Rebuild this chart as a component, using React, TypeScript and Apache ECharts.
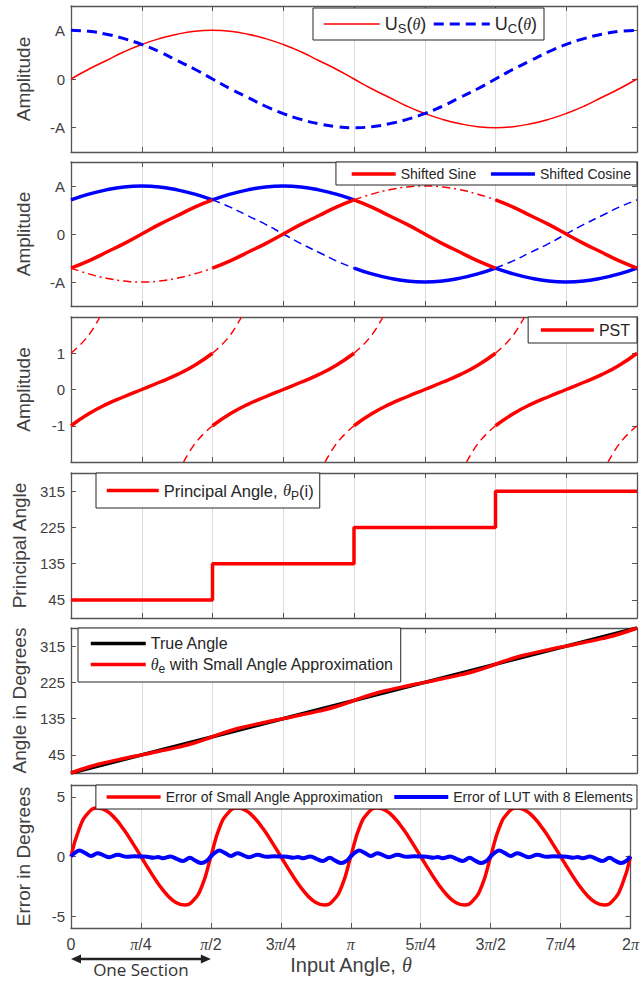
import React, { useEffect, useRef } from 'react';
import * as echarts from 'echarts';

// ---------- data ----------
const SECTION_STARTS = [0, 90, 180, 270];
const FULL_SAMPLES = Array.from({ length: 33 }, (_, i) => i * 11.25); // 0..360 deg
const SECTION_SAMPLES = [0, 11.25, 22.5, 33.75, 45, 56.25, 67.5, 78.75, 90];
const X_TICK_LABELS = ['0', '{p|π}/4', '{p|π}/2', '3{p|π}/4', '{p|π}', '5{p|π}/4', '3{p|π}/2', '7{p|π}/4', '2{p|π}'];

// Panel 1
const U_S = [0, 0.2, 0.38, 0.56, 0.71, 0.83, 0.92, 0.98, 1, 0.98, 0.92, 0.83, 0.71, 0.56, 0.38, 0.2, 0,
  -0.2, -0.38, -0.56, -0.71, -0.83, -0.92, -0.98, -1, -0.98, -0.92, -0.83, -0.71, -0.56, -0.38, -0.2, 0];
const U_C = [1, 0.98, 0.92, 0.83, 0.71, 0.56, 0.38, 0.2, 0, -0.2, -0.38, -0.56, -0.71, -0.83, -0.92, -0.98, -1,
  -0.98, -0.92, -0.83, -0.71, -0.56, -0.38, -0.2, 0, 0.2, 0.38, 0.56, 0.71, 0.83, 0.92, 0.98, 1];

// Panel 2 (per section)
const SHIFTED_SINE_SOLID = [
  [-0.71, -0.56, -0.38, -0.2, 0, 0.2, 0.38, 0.56, 0.71],
  [-0.71, -0.56, -0.38, -0.2, 0, 0.2, 0.38, 0.56, 0.71],
  [0.71, 0.56, 0.38, 0.2, 0, -0.2, -0.38, -0.56, -0.71],
  [0.71, 0.56, 0.38, 0.2, 0, -0.2, -0.38, -0.56, -0.71],
];
const SHIFTED_SINE_DASHDOT = [
  [-0.71, -0.83, -0.92, -0.98, -1, -0.98, -0.92, -0.83, -0.71],
  null,
  [0.71, 0.83, 0.92, 0.98, 1, 0.98, 0.92, 0.83, 0.71],
  null,
];
const SHIFTED_COSINE_SOLID = [
  [0.71, 0.83, 0.92, 0.98, 1, 0.98, 0.92, 0.83, 0.71],
  [0.71, 0.83, 0.92, 0.98, 1, 0.98, 0.92, 0.83, 0.71],
  [-0.71, -0.83, -0.92, -0.98, -1, -0.98, -0.92, -0.83, -0.71],
  [-0.71, -0.83, -0.92, -0.98, -1, -0.98, -0.92, -0.83, -0.71],
];
const SHIFTED_COSINE_DASHED = [
  null,
  [0.71, 0.56, 0.38, 0.2, 0, -0.2, -0.38, -0.56, -0.71],
  null,
  [-0.71, -0.56, -0.38, -0.2, 0, 0.2, 0.38, 0.56, 0.71],
];

// Panel 3
const PST_SECTION = [-1, -0.67, -0.41, -0.2, 0, 0.2, 0.41, 0.67, 1];
const PST_TAIL_OFFSETS = [0, 4.6, 9.2, 13.8, 18.4];
const PST_TAIL_RISE = [1, 1.18, 1.39, 1.66, 2];
const PST_TAIL_LOW = [-2, -1.66, -1.39, -1.18, -1];
const PST_RISE_STARTS = [0, 90, 180, 270];
const PST_LOW_ENDS = [90, 180, 270, 360];

// Panel 4
const PRINCIPAL_ANGLES = [45, 135, 225, 315];

// Panel 5
const TRUE_ANGLE_X = [0, 360];
const TRUE_ANGLE = [0, 360];
const THETA_E = [0, 14.93, 26.36, 36.05, 45, 53.95, 63.64, 75.07, 90,
  104.93, 116.36, 126.05, 135, 143.95, 153.64, 165.07, 180,
  194.93, 206.36, 216.05, 225, 233.95, 243.64, 255.07, 270,
  284.93, 296.36, 306.05, 315, 323.95, 333.64, 345.07, 360];

// Panel 6 (one section, repeated for each section)
const SAA_OFFSETS = Array.from({ length: 17 }, (_, i) => i * 5.625);
const SAA_ERROR_SECTION = [0, 2.44, 3.68, 4.07, 3.86, 3.23, 2.3, 1.19, 0, -1.19, -2.3, -3.23, -3.86, -4.07, -3.68, -2.44, 0];
const LUT_OFFSETS = [0, 2.5, 5.5, 9, 13, 17, 21, 24.5, 30, 36, 41, 45, 49, 53, 56, 59, 64, 68, 72, 76.5, 80, 84, 87.5, 90];
const LUT_ERROR_SECTION = [0, 0.3, 0.5, 0.3, 0.05, 0.28, 0.1, -0.06, 0.14, -0.03, 0.02, 0, -0.02, -0.1, -0.05, -0.15, 0, -0.2, -0.38, -0.1, -0.35, -0.55, -0.35, 0];

// ---------- layout ----------
const PANELS = [
  { top: 6, height: 146, min: -1.5, max: 1.5, ticks: [-1, 0, 1], labels: ['-A', '0', 'A'], name: 'Amplitude' },
  { top: 162, height: 144, min: -1.5, max: 1.5, ticks: [-1, 0, 1], labels: ['-A', '0', 'A'], name: 'Amplitude' },
  { top: 317, height: 145, min: -2, max: 2, ticks: [-1, 0, 1], labels: ['-1', '0', '1'], name: 'Amplitude' },
  { top: 473, height: 145, min: 0, max: 360, ticks: [45, 135, 225, 315], labels: ['45', '135', '225', '315'], name: 'Principal Angle' },
  { top: 628, height: 145, min: 0, max: 360, ticks: [45, 135, 225, 315], labels: ['45', '135', '225', '315'], name: 'Angle in Degrees' },
  { top: 785, height: 143, min: -6, max: 6, ticks: [-5, 0, 5], labels: ['-5', '0', '5'], name: 'Error in Degrees' },
];

const RED = '#ff0000';
const BLUE = '#0000ff';
const AXIS_COLOR = '#555555';
const TEXT_COLOR = '#404040';
const LEGEND_TEXT = '#262626';
const FONT = 'Liberation Sans';

function sectioned(values: (number[] | null)[], offsets: number[]) {
  const pts: any[] = [];
  values.forEach((vals, s) => {
    if (!vals) return;
    vals.forEach((v, i) => pts.push([SECTION_STARTS[s] + offsets[i], v]));
    pts.push([SECTION_STARTS[s] + offsets[offsets.length - 1], null]);
  });
  return pts;
}

function continuous(offsets: number[], section: number[]) {
  const pts: any[] = [];
  SECTION_STARTS.forEach((start, s) => {
    section.forEach((v, i) => {
      if (s > 0 && i === 0) return;
      pts.push([start + offsets[i], v]);
    });
  });
  return pts;
}

function lineSeries(name: string, g: number, data: any[], color: string, width: number, type: any, extra: any = {}) {
  return {
    type: 'line', name, xAxisIndex: 2 * g, yAxisIndex: 2 * g, data,
    symbol: 'none', showSymbol: false, smooth: true, silent: true, connectNulls: false,
    lineStyle: { color, width, type }, itemStyle: { color },
    ...extra,
  };
}

function rich(size: number, subSize: number, subLine: number) {
  return {
    sub: { fontSize: subSize, lineHeight: subLine, verticalAlign: 'bottom', fontFamily: FONT, color: LEGEND_TEXT },
    th: { fontStyle: 'italic', fontFamily: 'Liberation Serif', fontSize: size, color: LEGEND_TEXT },
  };
}

function legendBase(extra: any) {
  return {
    backgroundColor: '#ffffff', borderColor: '#262626', borderWidth: 1, borderRadius: 0,
    selectedMode: false, itemHeight: 12,
    itemStyle: { opacity: 0 },
    ...extra,
  };
}

export default function App() {
  const ref = useRef<HTMLDivElement>(null);
  useEffect(() => {
    if (!ref.current) return;
    const chart = echarts.init(ref.current, null, { renderer: 'svg' });

    const grids = PANELS.map((p) => ({ left: 71, right: 5, top: p.top, height: p.height }));
    const xAxes: any[] = [];
    const yAxes: any[] = [];
    PANELS.forEach((p, g) => {
      const last = g === PANELS.length - 1;
      xAxes.push({
        type: 'value', gridIndex: g, position: 'bottom', min: 0, max: 360, interval: 45,
        axisLine: { show: true, onZero: false, lineStyle: { color: AXIS_COLOR, width: 1.3 } },
        axisTick: { show: true, inside: true, length: 5, lineStyle: { color: AXIS_COLOR } },
        splitLine: { show: true, lineStyle: { color: '#dcdcdc', width: 1 } },
        axisLabel: {
          show: last, margin: 8, fontSize: 16, color: TEXT_COLOR, fontFamily: FONT,
          showMinLabel: true, showMaxLabel: true,
          formatter: (v: number) => X_TICK_LABELS[Math.round(v / 45)] ?? '',
          rich: { p: { fontFamily: 'Liberation Serif', fontStyle: 'italic', fontSize: 16, color: TEXT_COLOR } },
        },
        name: last ? 'Input Angle, {t|θ}' : '',
        nameLocation: 'middle', nameGap: 26,
        nameTextStyle: {
          fontSize: 20, color: TEXT_COLOR, fontFamily: FONT, lineHeight: 22,
          rich: { t: { fontFamily: 'Liberation Serif', fontStyle: 'italic', fontSize: 20, color: TEXT_COLOR } },
        },
      });
      xAxes.push({
        type: 'value', gridIndex: g, position: 'top', min: 0, max: 360, interval: 45,
        axisLine: { show: true, onZero: false, lineStyle: { color: AXIS_COLOR, width: 1.3 } },
        axisTick: { show: true, inside: true, length: 5, lineStyle: { color: AXIS_COLOR } },
        splitLine: { show: false }, axisLabel: { show: false },
      });
      yAxes.push({
        type: 'value', gridIndex: g, position: 'left', min: p.min, max: p.max,
        axisLine: { show: true, onZero: false, lineStyle: { color: AXIS_COLOR, width: 1.3 } },
        axisTick: { show: true, inside: true, length: 5, customValues: p.ticks, lineStyle: { color: AXIS_COLOR } },
        splitLine: { show: false },
        axisLabel: {
          show: true, customValues: p.ticks, margin: 6, fontSize: 15, color: TEXT_COLOR, fontFamily: FONT,
          formatter: (v: number) => { const i = p.ticks.indexOf(v); return i >= 0 ? p.labels[i] : ''; },
        },
        name: p.name, nameLocation: 'middle', nameGap: 38,
        nameTextStyle: { fontSize: 19, color: TEXT_COLOR, fontFamily: FONT },
      });
      yAxes.push({
        type: 'value', gridIndex: g, position: 'right', min: p.min, max: p.max,
        axisLine: { show: true, onZero: false, lineStyle: { color: AXIS_COLOR, width: 1.3 } },
        axisTick: { show: true, inside: true, length: 5, customValues: p.ticks, lineStyle: { color: AXIS_COLOR } },
        splitLine: { show: false }, axisLabel: { show: false },
      });
    });

    // Panel 3 tails
    const pstTails: any[] = [];
    PST_RISE_STARTS.forEach((s) => {
      PST_TAIL_OFFSETS.forEach((o, i) => pstTails.push([s + o, PST_TAIL_RISE[i]]));
      pstTails.push([s, null]);
    });
    PST_LOW_ENDS.forEach((e) => {
      PST_TAIL_OFFSETS.forEach((o, i) => pstTails.push([e - PST_TAIL_OFFSETS[PST_TAIL_OFFSETS.length - 1] + o, PST_TAIL_LOW[i]]));
      pstTails.push([e, null]);
    });

    const principal = SECTION_STARTS.map((s, i) => [s, PRINCIPAL_ANGLES[i]]);
    principal.push([360, PRINCIPAL_ANGLES[PRINCIPAL_ANGLES.length - 1]]);

    const series: any[] = [
      // Panel 1
      lineSeries('US', 0, FULL_SAMPLES.map((x, i) => [x, U_S[i]]), RED, 1.5, 'solid'),
      lineSeries('UC', 0, FULL_SAMPLES.map((x, i) => [x, U_C[i]]), BLUE, 3, [10, 6]),
      // Panel 2
      lineSeries('Shifted Cosine dashed', 1, sectioned(SHIFTED_COSINE_DASHED, SECTION_SAMPLES), BLUE, 1.5, [8, 5]),
      lineSeries('Shifted Sine dashdot', 1, sectioned(SHIFTED_SINE_DASHDOT, SECTION_SAMPLES), RED, 1.5, [8, 4, 2, 4]),
      lineSeries('Shifted Cosine', 1, sectioned(SHIFTED_COSINE_SOLID, SECTION_SAMPLES), BLUE, 3.5, 'solid'),
      lineSeries('Shifted Sine', 1, sectioned(SHIFTED_SINE_SOLID, SECTION_SAMPLES), RED, 3.5, 'solid'),
      // Panel 3
      lineSeries('PST tails', 2, pstTails, RED, 1.5, [8, 5]),
      lineSeries('PST', 2, sectioned([PST_SECTION, PST_SECTION, PST_SECTION, PST_SECTION], SECTION_SAMPLES), RED, 3.5, 'solid'),
      // Panel 4
      lineSeries('Principal', 3, principal, RED, 3.5, 'solid', { smooth: false, step: 'end' }),
      // Panel 5
      lineSeries('True Angle', 4, TRUE_ANGLE_X.map((x, i) => [x, TRUE_ANGLE[i]]), '#000000', 3.5, 'solid', { smooth: false }),
      lineSeries('ThetaE', 4, FULL_SAMPLES.map((x, i) => [x, THETA_E[i]]), RED, 3.5, 'solid'),
      // Panel 6
      lineSeries('SAA', 5, continuous(SAA_OFFSETS, SAA_ERROR_SECTION), RED, 3.5, 'solid'),
      lineSeries('LUT', 5, continuous(LUT_OFFSETS, LUT_ERROR_SECTION), BLUE, 4, 'solid', { smooth: 0.4 }),
    ];

    const legends = [
      legendBase({
        left: 313, top: 8, padding: [5, 7, 5, 10], itemGap: 6, itemWidth: 56,
        data: [
          { name: 'US', lineStyle: { width: 1.5, type: 'solid' } },
          { name: 'UC', lineStyle: { width: 3, type: [10, 6] } },
        ],
        formatter: (n: string) => (n === 'US' ? 'U{sub|S}({th|θ})' : 'U{sub|C}({th|θ})'),
        textStyle: { color: LEGEND_TEXT, fontFamily: FONT, fontSize: 18, lineHeight: 22, rich: rich(16, 13, 9) },
      }),
      legendBase({
        right: 5, top: 162, padding: [5, 6, 4, 14], itemGap: 13, itemWidth: 44,
        data: [
          { name: 'Shifted Sine', lineStyle: { width: 3.5 } },
          { name: 'Shifted Cosine', lineStyle: { width: 3.5 } },
        ],
        textStyle: { color: LEGEND_TEXT, fontFamily: FONT, fontSize: 14 },
      }),
      legendBase({
        right: 5, top: 317, padding: [4, 7, 4, 11], itemWidth: 53,
        data: [{ name: 'PST', lineStyle: { width: 3.5 } }],
        textStyle: { color: LEGEND_TEXT, fontFamily: FONT, fontSize: 16, lineHeight: 18 },
      }),
      legendBase({
        left: 96, top: 473, padding: [6, 6, 6, 9], itemWidth: 52,
        data: [{ name: 'Principal', lineStyle: { width: 3.5 } }],
        formatter: () => 'Principal Angle, {th|θ}{sub|P}(i)',
        textStyle: { color: LEGEND_TEXT, fontFamily: FONT, fontSize: 16.5, lineHeight: 23, rich: rich(16.5, 12, 9) },
      }),
      legendBase({
        left: 78, top: 628, orient: 'vertical', padding: [5, 6, 7, 11], itemGap: 0, itemWidth: 55,
        data: [
          { name: 'True Angle', lineStyle: { width: 3.5 } },
          { name: 'ThetaE', lineStyle: { width: 3.5 } },
        ],
        formatter: (n: string) => (n === 'True Angle' ? 'True Angle' : '{th|θ}{sub|e} with Small Angle Approximation'),
        textStyle: { color: LEGEND_TEXT, fontFamily: FONT, fontSize: 16, lineHeight: 21, rich: rich(16, 12, 9) },
      }),
      legendBase({
        right: 5, top: 785, padding: [5, 4, 5, 9], itemGap: 8, itemWidth: 54,
        data: [
          { name: 'SAA', lineStyle: { width: 3.5 } },
          { name: 'LUT', lineStyle: { width: 4 } },
        ],
        formatter: (n: string) => (n === 'SAA' ? 'Error of Small Angle Approximation' : 'Error of LUT with 8 Elements'),
        textStyle: { color: LEGEND_TEXT, fontFamily: FONT, fontSize: 14 },
      }),
    ];

    chart.setOption({
      animation: false,
      backgroundColor: '#ffffff',
      grid: grids,
      xAxis: xAxes,
      yAxis: yAxes,
      legend: legends,
      series,
    });

    const p0 = chart.convertToPixel({ gridIndex: 5 } as any, [0, -6]) as number[];
    const p1 = chart.convertToPixel({ gridIndex: 5 } as any, [90, -6]) as number[];
    const ay = p0[1] + 31;
    const head = 10;
    chart.setOption({
      graphic: [
        { type: 'line', shape: { x1: p0[0] + head - 1, y1: ay, x2: p1[0] - head + 1, y2: ay }, style: { stroke: '#222', lineWidth: 2.5 }, silent: true },
        { type: 'polygon', shape: { points: [[p0[0], ay], [p0[0] + head, ay - 4.5], [p0[0] + head, ay + 4.5]] }, style: { fill: '#222' }, silent: true },
        { type: 'polygon', shape: { points: [[p1[0], ay], [p1[0] - head, ay - 4.5], [p1[0] - head, ay + 4.5]] }, style: { fill: '#222' }, silent: true },
        {
          type: 'text', x: (p0[0] + p1[0]) / 2, y: ay + 10, silent: true,
          style: { text: 'One Section', fill: '#333', font: '17px "Open Sans"', textAlign: 'center', textVerticalAlign: 'middle' },
        },
      ],
    });

    return () => chart.dispose();
  }, []);

  return (
    <div
      ref={ref}
      style={{ position: 'absolute', left: 0, top: 0, width: 642, height: 981, background: '#fff' }}
    />
  );
}
